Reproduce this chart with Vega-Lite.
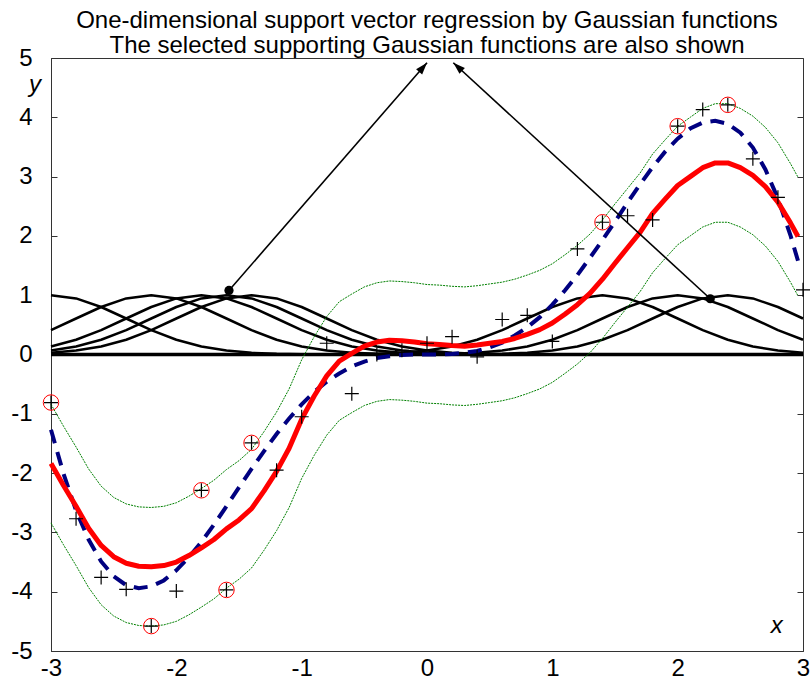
{
"$schema": "https://vega.github.io/schema/vega-lite/v6.json",
"width": 752, "height": 593,
"autosize": {"type": "none"},
"padding": {"left": 51, "top": 58, "right": 8, "bottom": 32},
"background": "white",
"title": {"text": ["One-dimensional support vector regression by Gaussian functions", "The selected supporting Gaussian functions are also shown"], "font": "Liberation Sans", "fontSize": 24, "fontWeight": "normal", "color": "#000", "anchor": "middle", "frame": "group", "lineHeight": 25, "offset": 8, "dy": 20},
"datasets": {
"gauss": [
{"c":-3,"x":-3,"g":1},{"c":-3,"x":-2.8,"g":0.946},{"c":-3,"x":-2.6,"g":0.801},{"c":-3,"x":-2.4,"g":0.607},{"c":-3,"x":-2.2,"g":0.411},{"c":-3,"x":-2.0,"g":0.249},{"c":-3,"x":-1.8,"g":0.135},{"c":-3,"x":-1.6,"g":0.066},{"c":-3,"x":-1.4,"g":0.029},{"c":-3,"x":-1.2,"g":0.011},{"c":-3,"x":-1.0,"g":0.004},{"c":-3,"x":-0.8,"g":0.001},{"c":-3,"x":-0.6,"g":0},
{"c":-2.2,"x":-3,"g":0.411},{"c":-2.2,"x":-2.8,"g":0.607},{"c":-2.2,"x":-2.6,"g":0.801},{"c":-2.2,"x":-2.4,"g":0.946},{"c":-2.2,"x":-2.2,"g":1},{"c":-2.2,"x":-2.0,"g":0.946},{"c":-2.2,"x":-1.8,"g":0.801},{"c":-2.2,"x":-1.6,"g":0.607},{"c":-2.2,"x":-1.4,"g":0.411},{"c":-2.2,"x":-1.2,"g":0.249},{"c":-2.2,"x":-1.0,"g":0.135},{"c":-2.2,"x":-0.8,"g":0.066},{"c":-2.2,"x":-0.6,"g":0.029},{"c":-2.2,"x":-0.4,"g":0.011},{"c":-2.2,"x":-0.2,"g":0.004},{"c":-2.2,"x":0,"g":0.001},{"c":-2.2,"x":0.2,"g":0},
{"c":-1.8,"x":-3,"g":0.135},{"c":-1.8,"x":-2.8,"g":0.249},{"c":-1.8,"x":-2.6,"g":0.411},{"c":-1.8,"x":-2.4,"g":0.607},{"c":-1.8,"x":-2.2,"g":0.801},{"c":-1.8,"x":-2.0,"g":0.946},{"c":-1.8,"x":-1.8,"g":1},{"c":-1.8,"x":-1.6,"g":0.946},{"c":-1.8,"x":-1.4,"g":0.801},{"c":-1.8,"x":-1.2,"g":0.607},{"c":-1.8,"x":-1.0,"g":0.411},{"c":-1.8,"x":-0.8,"g":0.249},{"c":-1.8,"x":-0.6,"g":0.135},{"c":-1.8,"x":-0.4,"g":0.066},{"c":-1.8,"x":-0.2,"g":0.029},{"c":-1.8,"x":0,"g":0.011},{"c":-1.8,"x":0.2,"g":0.004},{"c":-1.8,"x":0.4,"g":0.001},{"c":-1.8,"x":0.6,"g":0},
{"c":-1.6,"x":-3,"g":0.066},{"c":-1.6,"x":-2.8,"g":0.135},{"c":-1.6,"x":-2.6,"g":0.249},{"c":-1.6,"x":-2.4,"g":0.411},{"c":-1.6,"x":-2.2,"g":0.607},{"c":-1.6,"x":-2.0,"g":0.801},{"c":-1.6,"x":-1.8,"g":0.946},{"c":-1.6,"x":-1.6,"g":1},{"c":-1.6,"x":-1.4,"g":0.946},{"c":-1.6,"x":-1.2,"g":0.801},{"c":-1.6,"x":-1.0,"g":0.607},{"c":-1.6,"x":-0.8,"g":0.411},{"c":-1.6,"x":-0.6,"g":0.249},{"c":-1.6,"x":-0.4,"g":0.135},{"c":-1.6,"x":-0.2,"g":0.066},{"c":-1.6,"x":0,"g":0.029},{"c":-1.6,"x":0.2,"g":0.011},{"c":-1.6,"x":0.4,"g":0.004},{"c":-1.6,"x":0.6,"g":0.001},{"c":-1.6,"x":0.8,"g":0},
{"c":-1.4,"x":-3,"g":0.029},{"c":-1.4,"x":-2.8,"g":0.066},{"c":-1.4,"x":-2.6,"g":0.135},{"c":-1.4,"x":-2.4,"g":0.249},{"c":-1.4,"x":-2.2,"g":0.411},{"c":-1.4,"x":-2.0,"g":0.607},{"c":-1.4,"x":-1.8,"g":0.801},{"c":-1.4,"x":-1.6,"g":0.946},{"c":-1.4,"x":-1.4,"g":1},{"c":-1.4,"x":-1.2,"g":0.946},{"c":-1.4,"x":-1.0,"g":0.801},{"c":-1.4,"x":-0.8,"g":0.607},{"c":-1.4,"x":-0.6,"g":0.411},{"c":-1.4,"x":-0.4,"g":0.249},{"c":-1.4,"x":-0.2,"g":0.135},{"c":-1.4,"x":0,"g":0.066},{"c":-1.4,"x":0.2,"g":0.029},{"c":-1.4,"x":0.4,"g":0.011},{"c":-1.4,"x":0.6,"g":0.004},{"c":-1.4,"x":0.8,"g":0.001},{"c":-1.4,"x":1.0,"g":0},
{"c":1.4,"x":-1.0,"g":0},{"c":1.4,"x":-0.8,"g":0.001},{"c":1.4,"x":-0.6,"g":0.004},{"c":1.4,"x":-0.4,"g":0.011},{"c":1.4,"x":-0.2,"g":0.029},{"c":1.4,"x":0,"g":0.066},{"c":1.4,"x":0.2,"g":0.135},{"c":1.4,"x":0.4,"g":0.249},{"c":1.4,"x":0.6,"g":0.411},{"c":1.4,"x":0.8,"g":0.607},{"c":1.4,"x":1.0,"g":0.801},{"c":1.4,"x":1.2,"g":0.946},{"c":1.4,"x":1.4,"g":1},{"c":1.4,"x":1.6,"g":0.946},{"c":1.4,"x":1.8,"g":0.801},{"c":1.4,"x":2.0,"g":0.607},{"c":1.4,"x":2.2,"g":0.411},{"c":1.4,"x":2.4,"g":0.249},{"c":1.4,"x":2.6,"g":0.135},{"c":1.4,"x":2.8,"g":0.066},{"c":1.4,"x":3.0,"g":0.029},
{"c":2.0,"x":-0.4,"g":0},{"c":2.0,"x":-0.2,"g":0.001},{"c":2.0,"x":0,"g":0.004},{"c":2.0,"x":0.2,"g":0.011},{"c":2.0,"x":0.4,"g":0.029},{"c":2.0,"x":0.6,"g":0.066},{"c":2.0,"x":0.8,"g":0.135},{"c":2.0,"x":1.0,"g":0.249},{"c":2.0,"x":1.2,"g":0.411},{"c":2.0,"x":1.4,"g":0.607},{"c":2.0,"x":1.6,"g":0.801},{"c":2.0,"x":1.8,"g":0.946},{"c":2.0,"x":2.0,"g":1},{"c":2.0,"x":2.2,"g":0.946},{"c":2.0,"x":2.4,"g":0.801},{"c":2.0,"x":2.6,"g":0.607},{"c":2.0,"x":2.8,"g":0.411},{"c":2.0,"x":3.0,"g":0.249},
{"c":2.4,"x":0,"g":0},{"c":2.4,"x":0.2,"g":0.001},{"c":2.4,"x":0.4,"g":0.004},{"c":2.4,"x":0.6,"g":0.011},{"c":2.4,"x":0.8,"g":0.029},{"c":2.4,"x":1.0,"g":0.066},{"c":2.4,"x":1.2,"g":0.135},{"c":2.4,"x":1.4,"g":0.249},{"c":2.4,"x":1.6,"g":0.411},{"c":2.4,"x":1.8,"g":0.607},{"c":2.4,"x":2.0,"g":0.801},{"c":2.4,"x":2.2,"g":0.946},{"c":2.4,"x":2.4,"g":1},{"c":2.4,"x":2.6,"g":0.946},{"c":2.4,"x":2.8,"g":0.801},{"c":2.4,"x":3.0,"g":0.607}
],
"curves": [
{"x":-3.0,"red":-1.84,"up":-0.84,"lo":-2.84,"blue":-1.27},
{"x":-2.9,"red":-2.21,"up":-1.21,"lo":-3.21,"blue":-2.01},
{"x":-2.8,"red":-2.56,"up":-1.56,"lo":-3.56,"blue":-2.63},
{"x":-2.7,"red":-2.93,"up":-1.93,"lo":-3.93,"blue":-3.12},
{"x":-2.6,"red":-3.22,"up":-2.22,"lo":-4.22,"blue":-3.49},
{"x":-2.5,"red":-3.41,"up":-2.41,"lo":-4.41,"blue":-3.74},
{"x":-2.4,"red":-3.52,"up":-2.52,"lo":-4.52,"blue":-3.89},
{"x":-2.3,"red":-3.57,"up":-2.57,"lo":-4.57,"blue":-3.94},
{"x":-2.2,"red":-3.58,"up":-2.58,"lo":-4.58,"blue":-3.91},
{"x":-2.1,"red":-3.56,"up":-2.56,"lo":-4.56,"blue":-3.81},
{"x":-2.0,"red":-3.50,"up":-2.50,"lo":-4.50,"blue":-3.64},
{"x":-1.9,"red":-3.39,"up":-2.39,"lo":-4.39,"blue":-3.42},
{"x":-1.8,"red":-3.26,"up":-2.26,"lo":-4.26,"blue":-3.16},
{"x":-1.7,"red":-3.12,"up":-2.12,"lo":-4.12,"blue":-2.87},
{"x":-1.6,"red":-2.94,"up":-1.94,"lo":-3.94,"blue":-2.56},
{"x":-1.5,"red":-2.79,"up":-1.79,"lo":-3.79,"blue":-2.24},
{"x":-1.4,"red":-2.60,"up":-1.60,"lo":-3.60,"blue":-1.93},
{"x":-1.3,"red":-2.30,"up":-1.30,"lo":-3.30,"blue":-1.63},
{"x":-1.2,"red":-1.97,"up":-0.97,"lo":-2.97,"blue":-1.34},
{"x":-1.1,"red":-1.58,"up":-0.58,"lo":-2.58,"blue":-1.08},
{"x":-1.0,"red":-1.09,"up":-0.09,"lo":-2.09,"blue":-0.84},
{"x":-0.9,"red":-0.70,"up":0.30,"lo":-1.70,"blue":-0.63},
{"x":-0.8,"red":-0.36,"up":0.64,"lo":-1.36,"blue":-0.46},
{"x":-0.7,"red":-0.11,"up":0.89,"lo":-1.11,"blue":-0.32},
{"x":-0.6,"red":0.02,"up":1.02,"lo":-0.98,"blue":-0.20},
{"x":-0.5,"red":0.14,"up":1.14,"lo":-0.86,"blue":-0.12},
{"x":-0.4,"red":0.21,"up":1.21,"lo":-0.79,"blue":-0.06},
{"x":-0.3,"red":0.24,"up":1.24,"lo":-0.76,"blue":-0.03},
{"x":-0.2,"red":0.23,"up":1.23,"lo":-0.77,"blue":-0.01},
{"x":-0.1,"red":0.21,"up":1.21,"lo":-0.79,"blue":0.00},
{"x":0.0,"red":0.18,"up":1.18,"lo":-0.82,"blue":0.00},
{"x":0.1,"red":0.17,"up":1.17,"lo":-0.83,"blue":0.00},
{"x":0.2,"red":0.15,"up":1.15,"lo":-0.85,"blue":0.01},
{"x":0.3,"red":0.14,"up":1.14,"lo":-0.86,"blue":0.03},
{"x":0.4,"red":0.16,"up":1.16,"lo":-0.84,"blue":0.06},
{"x":0.5,"red":0.19,"up":1.19,"lo":-0.81,"blue":0.12},
{"x":0.6,"red":0.22,"up":1.22,"lo":-0.78,"blue":0.20},
{"x":0.7,"red":0.27,"up":1.27,"lo":-0.73,"blue":0.32},
{"x":0.8,"red":0.34,"up":1.34,"lo":-0.66,"blue":0.46},
{"x":0.9,"red":0.42,"up":1.42,"lo":-0.58,"blue":0.63},
{"x":1.0,"red":0.53,"up":1.53,"lo":-0.47,"blue":0.84},
{"x":1.1,"red":0.68,"up":1.68,"lo":-0.32,"blue":1.08},
{"x":1.2,"red":0.84,"up":1.84,"lo":-0.16,"blue":1.34},
{"x":1.3,"red":1.03,"up":2.03,"lo":0.03,"blue":1.63},
{"x":1.4,"red":1.27,"up":2.27,"lo":0.27,"blue":1.93},
{"x":1.5,"red":1.54,"up":2.54,"lo":0.54,"blue":2.24},
{"x":1.6,"red":1.80,"up":2.80,"lo":0.80,"blue":2.56},
{"x":1.7,"red":2.06,"up":3.06,"lo":1.06,"blue":2.87},
{"x":1.8,"red":2.38,"up":3.38,"lo":1.38,"blue":3.16},
{"x":1.9,"red":2.62,"up":3.62,"lo":1.62,"blue":3.42},
{"x":2.0,"red":2.85,"up":3.85,"lo":1.85,"blue":3.64},
{"x":2.1,"red":3.00,"up":4.00,"lo":2.00,"blue":3.81},
{"x":2.2,"red":3.15,"up":4.15,"lo":2.15,"blue":3.91},
{"x":2.3,"red":3.23,"up":4.23,"lo":2.23,"blue":3.94},
{"x":2.4,"red":3.23,"up":4.23,"lo":2.23,"blue":3.89},
{"x":2.5,"red":3.15,"up":4.15,"lo":2.15,"blue":3.74},
{"x":2.6,"red":3.02,"up":4.02,"lo":2.02,"blue":3.49},
{"x":2.7,"red":2.83,"up":3.83,"lo":1.83,"blue":3.12},
{"x":2.8,"red":2.57,"up":3.57,"lo":1.57,"blue":2.63},
{"x":2.9,"red":2.22,"up":3.22,"lo":1.22,"blue":2.01},
{"x":2.96,"red":1.99,"up":2.99,"lo":0.99,"blue":1.58}
],
"pts": [
{"x":-3.0,"y":-0.81,"sv":true},{"x":-2.8,"y":-2.77,"sv":false},{"x":-2.6,"y":-3.76,"sv":false},{"x":-2.4,"y":-3.96,"sv":false},{"x":-2.2,"y":-4.58,"sv":true},{"x":-2.0,"y":-3.99,"sv":false},{"x":-1.8,"y":-2.29,"sv":true},{"x":-1.6,"y":-3.97,"sv":true},{"x":-1.4,"y":-1.49,"sv":true},{"x":-1.2,"y":-1.95,"sv":false},{"x":-1.0,"y":-1.05,"sv":false},{"x":-0.8,"y":0.19,"sv":false},{"x":-0.6,"y":-0.66,"sv":false},{"x":-0.4,"y":0.0,"sv":false},{"x":-0.2,"y":0.07,"sv":false},{"x":0.0,"y":0.19,"sv":false},{"x":0.2,"y":0.30,"sv":false},{"x":0.4,"y":-0.04,"sv":false},{"x":0.6,"y":0.59,"sv":false},{"x":0.8,"y":0.66,"sv":false},{"x":1.0,"y":0.22,"sv":false},{"x":1.2,"y":1.78,"sv":false},{"x":1.4,"y":2.23,"sv":true},{"x":1.6,"y":2.34,"sv":false},{"x":1.8,"y":2.27,"sv":false},{"x":2.0,"y":3.85,"sv":true},{"x":2.2,"y":4.13,"sv":false},{"x":2.4,"y":4.21,"sv":true},{"x":2.6,"y":3.30,"sv":false},{"x":2.8,"y":2.65,"sv":false},{"x":3.0,"y":1.09,"sv":false}
],
"arrows": [
{"id":"L","x":-1.58,"y":1.08,"tx":0.0,"ty":4.92},
{"id":"R","x":2.26,"y":0.94,"tx":0.21,"ty":4.92}
],
"zero": [{"x":-3,"xe":3,"y":0}],
"labels": [{"x":2.79,"y":-4.70,"t":"x"},{"x":-3.128,"y":4.43,"t":"y"}]
},
"encoding": {
"x": {"field":"x","type":"quantitative","scale":{"domain":[-3,3],"nice":false,"zero":false},"axis":{"values":[-3,-2,-1,0,1,2,3],"ticks":false,"labelPadding":5,"title":null,"format":"d","grid":false}}
},
"resolve": {"axis": {"y": "independent"}},
"layer": [
{"data":{"name":"gauss"},"mark":{"type":"line","color":"#000","strokeWidth":2.5,"strokeJoin":"round"},
 "encoding":{"y":{"field":"g","type":"quantitative","scale":{"domain":[-5,5],"nice":false,"zero":false},"axis":{"orient":"left","values":[-5,-4,-3,-2,-1,0,1,2,3,4,5],"tickSize":-6,"labelPadding":25,"title":null,"format":"d","grid":false}},"detail":{"field":"c"}}},
{"data":{"name":"zero"},"mark":{"type":"rule","color":"#000","strokeWidth":3.5},
 "encoding":{"x2":{"field":"xe"},"y":{"field":"y","type":"quantitative","axis":null}}},
{"data":{"name":"curves"},"mark":{"type":"line","color":"#008000","strokeWidth":1,"strokeDash":[2,1]},
 "encoding":{"y":{"field":"up","type":"quantitative","axis":null}}},
{"data":{"name":"curves"},"mark":{"type":"line","color":"#008000","strokeWidth":1,"strokeDash":[2,1]},
 "encoding":{"y":{"field":"lo","type":"quantitative","axis":null}}},
{"data":{"name":"curves"},"mark":{"type":"line","color":"#000080","strokeWidth":4,"strokeDash":[14,9]},
 "encoding":{"y":{"field":"blue","type":"quantitative","axis":null}}},
{"data":{"name":"curves"},"mark":{"type":"line","color":"#ff0000","strokeWidth":5,"strokeJoin":"round"},
 "encoding":{"y":{"field":"red","type":"quantitative","axis":{"orient":"right","labels":false,"values":[-4,-3,-2,-1,0,1,2,3,4],"tickSize":-6,"title":null,"grid":false}}}},
{"data":{"name":"pts"},"mark":{"type":"point","shape":"M-1,0L1,0M0,-1L0,1","filled":false,"stroke":"#000","strokeWidth":1.2,"size":196,"opacity":1},
 "encoding":{"y":{"field":"y","type":"quantitative","axis":null}}},
{"data":{"name":"pts"},"transform":[{"filter":"datum.sv"}],"mark":{"type":"point","shape":"circle","filled":false,"stroke":"#ff0000","strokeWidth":1,"size":240,"opacity":1},
 "encoding":{"y":{"field":"y","type":"quantitative","axis":null}}},
{"data":{"name":"arrows"},"mark":{"type":"rule","color":"#000","strokeWidth":1.6},
 "encoding":{"x2":{"field":"tx"},"y":{"field":"y","type":"quantitative","axis":null},"y2":{"field":"ty"}}},
{"data":{"name":"arrows"},"mark":{"type":"point","shape":"circle","filled":true,"color":"#000","size":85,"opacity":1},
 "encoding":{"y":{"field":"y","type":"quantitative","axis":null}}},
{"data":{"name":"arrows"},"transform":[{"filter":"datum.id === 'L'"}],"mark":{"type":"point","shape":"M0,0L-0.4,1.2L0.4,1.2Z","filled":true,"color":"#000","size":400,"angle":41,"opacity":1},
 "encoding":{"x":{"field":"tx","type":"quantitative"},"y":{"field":"ty","type":"quantitative","axis":null}}},
{"data":{"name":"arrows"},"transform":[{"filter":"datum.id === 'R'"}],"mark":{"type":"point","shape":"M0,0L-0.4,1.2L0.4,1.2Z","filled":true,"color":"#000","size":400,"angle":312.5,"opacity":1},
 "encoding":{"x":{"field":"tx","type":"quantitative"},"y":{"field":"ty","type":"quantitative","axis":null}}},
{"data":{"name":"labels"},"mark":{"type":"text","font":"Liberation Sans","fontSize":24,"fontStyle":"italic","align":"center","baseline":"alphabetic","color":"#000"},
 "encoding":{"y":{"field":"y","type":"quantitative","axis":null},"text":{"field":"t"}}}
],
"config": {
"font": "Liberation Sans",
"locale": {"number": {"decimal": ".", "thousands": ",", "grouping": [3], "currency": ["$", ""], "minus": "-"}},
"view": {"stroke": "#333", "strokeWidth": 1},
"axis": {"labelFont": "Liberation Sans", "labelFontSize": 24, "labelColor": "#000", "domainColor": "#333", "tickColor": "#333", "labelFlush": false, "labelOverlap": false, "labelBound": false, "grid": false}
}
}
